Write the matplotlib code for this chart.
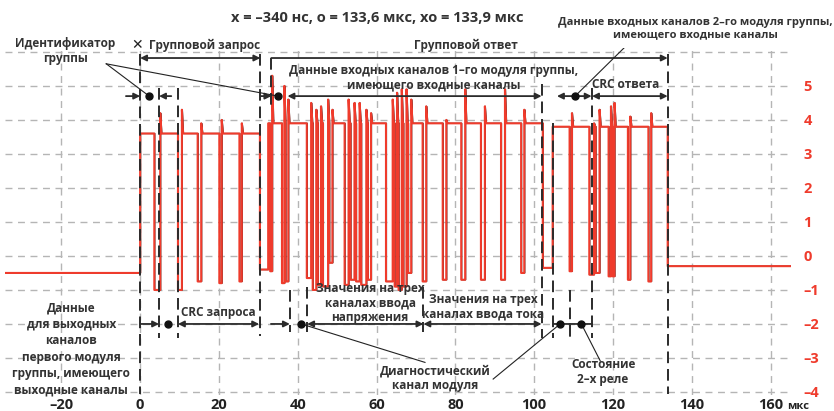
import matplotlib.pyplot as plt
import numpy as np

plt.rcParams['font.family'] = ['Open Sans', 'DejaVu Sans']

# frame levels (V) between edges (us)
frame_edges = [-34.3, 0, 30.4, 32.5, 102.2, 104.7, 133.9, 165.2]
frame_levels = [-0.5, 3.6, -0.4, 3.9, -0.35, 3.8, -0.3]

# pulses inside frames: fall time, rise time, low level, overshoot peak
pulse_start = [3.6, 9.6, 14.6, 20.1, 25.2,
               33.0, 36.0, 36.9, 42.3, 43.8, 45.1, 46.4, 48.0, 51.9, 53.4, 54.8,
               56.1, 57.8, 62.4, 64.6, 65.6, 66.8, 68.0, 71.7, 76.8, 81.5, 86.5,
               91.6, 96.7,
               109.0, 114.0, 115.6, 118.9, 119.9, 123.8, 129.0]
pulse_end = [5.1, 10.6, 15.5, 20.7, 25.8,
             33.5, 36.6, 37.6, 43.4, 44.7, 45.9, 47.7, 48.8, 52.9, 54.4, 55.7,
             57.4, 58.6, 64.1, 65.2, 66.4, 67.6, 68.8, 72.6, 77.7, 82.5, 87.5,
             92.6, 97.5,
             109.6, 115.2, 116.6, 119.5, 120.4, 124.4, 129.7]
pulse_low = [-1.0, -1.0, -0.75, -0.8, -0.75,
             -0.45, -0.8, -0.75, -0.65, -1.0, -0.85, -0.9, -0.2, -0.85, -0.7, -0.75,
             -0.85, -0.7, -0.75, -0.9, -1.0, -0.9, -0.5, -0.75, -0.7, -0.7, -0.7,
             -0.7, -0.5,
             -0.45, -0.55, -0.5, -0.6, -0.6, -0.7, -0.75]
pulse_peak = [4.2, 4.3, 3.9, 4.0, 3.9,
              5.3, 5.0, 4.6, 4.5, 4.3, 4.4, 4.6, 4.3, 4.6, 4.5, 4.5,
              4.3, 4.2, 4.6, 4.8, 4.9, 4.9, 4.6, 4.4, 4.0, 4.9, 4.4,
              4.9, 4.3,
              4.2, 3.9, 4.3, 4.4, 4.5, 4.1, 4.2]

x_ticks = [-20, 0, 20, 40, 60, 80, 100, 120, 140, 160]
y_ticks = [-4, -3, -2, -1, 0, 1, 2, 3, 4, 5, 6]

ink = '#2b2b2b'
red = '#ef3b2c'


def build_trace():
    t, v = [], []
    for i, level in enumerate(frame_levels):
        a, b = frame_edges[i], frame_edges[i + 1]
        t.append(a); v.append(level)
        for s, e, lo, pk in zip(pulse_start, pulse_end, pulse_low, pulse_peak):
            if a < s < b:
                t += [s, s, e, e, e + 0.3]
                v += [level, lo, lo, pk, level]
        t.append(b); v.append(level)
    return np.array(t), np.array(v)


fig = plt.figure(figsize=(8.34, 4.11), dpi=100)
ax = fig.add_axes([5 / 834, 0.038, 786 / 834, 0.844])
ax.set_xlim(-34.3, 165.2)
ax.set_ylim(-4.1, 6.1)

ax.set_xticks(x_ticks)
ax.set_xticklabels([str(x).replace('-', '–') for x in x_ticks])
ax.set_yticks(y_ticks)
ax.set_yticklabels([str(y).replace('-', '–') if y < 6 else '' for y in y_ticks])
ax.yaxis.tick_right()
ax.tick_params(length=0)
ax.tick_params(axis='x', pad=2, labelsize=10.5, labelcolor='#222')
ax.tick_params(axis='y', pad=9, labelsize=10.5, labelcolor=red)
for lab in ax.get_xticklabels() + ax.get_yticklabels():
    lab.set_fontweight('bold')
for s in ax.spines.values():
    s.set_visible(False)
ax.grid(True, color='#b5b5b5', lw=1, linestyle=(0, (5, 4)))
ax.set_axisbelow(True)

t, v = build_trace()
ax.plot(t + 0.12, v, color='#1a1a1a', lw=0.9, zorder=3)
ax.plot(t, v, color=red, lw=1.5, zorder=4)

# bold dashed markers
dash = (0, (6, 3))
for tv, top, bot in [(0, 5.95, -4.05), (4.8, 4.95, -2.4), (9.6, 4.95, -2.4),
                     (30.5, 5.95, -2.35), (38.0, -1.0, -2.25), (42.4, -0.9, -2.25),
                     (71.9, -0.9, -2.25), (102.0, 5.05, -2.4), (104.8, 3.9, -2.4),
                     (109.1, -1.0, -2.4), (114.7, 4.95, -2.4), (133.9, 5.95, -4.05),
                     (33.3, 5.82, 4.4)]:
    ax.plot([tv, tv], [top, bot], color=ink, lw=1.4, linestyle=dash, zorder=5)


def dim(t0, t1, y, style):
    ax.annotate('', xy=(t1, y), xytext=(t0, y),
                arrowprops=dict(arrowstyle=style, color=ink, lw=1.3,
                                shrinkA=0, shrinkB=0, mutation_scale=9),
                zorder=6)


def dot(tx, y):
    ax.plot(tx, y, 'o', ms=5, color='#111', zorder=7)


# top row
dim(0, 30.5, 5.82, '<|-|>')
dim(33.3, 133.9, 5.82, '-|>')
# identifier / data row
dim(-3.6, 0, 4.7, '-|>')
dot(2.3, 4.7)
dim(7.9, 4.8, 4.7, '-|>')
dim(30.7, 33.3, 4.7, '-|>')
dot(35.0, 4.7)
dim(37.4, 101.9, 4.7, '<|-|>')
dim(105.8, 114.6, 4.7, '<|-|>')
dot(110.4, 4.7)
dim(114.7, 133.9, 4.7, '<|-|>')
# bottom row
dim(0, 4.8, -2.0, '-|>')
dot(7.1, -2.0)
dim(9.6, 30.2, -2.0, '<|-|>')
dim(33.2, 38.0, -2.0, '-|>')
dot(40.9, -2.0)
dim(42.4, 71.9, -2.0, '<|-|>')
dim(71.9, 101.9, -2.0, '<|-|>')
dim(104.8, 109.1, -2.0, '-')
dot(106.6, -2.0)
dim(109.1, 114.7, -2.0, '-')
dot(112.0, -2.0)

# leader lines
for (x0, y0), (x1, y1) in [((-8.6, 5.65), (2.3, 4.7)), ((-8.6, 5.65), (35.0, 4.7)),
                           ((123.9, 6.24), (110.4, 4.7)),
                           ((72.3, -3.13), (40.9, -2.0)), ((89.6, -3.62), (106.6, -2.0)),
                           ((116.8, -3.09), (112.0, -2.0))]:
    ax.plot([x0, x1], [y0, y1], color='#222', lw=0.8, zorder=6)

txt = dict(color='#333', fontsize=8.5, fontweight='bold', ha='center', va='center',
           linespacing=1.15, zorder=8)
ax.text(-19.0, 6.03, 'Идентификатор\nгруппы', **txt)
ax.text(-0.8, 6.2, '✕', color='#222', fontsize=10, fontweight='bold', ha='center', va='center')
ax.text(2.3, 6.2, 'Групповой запрос', **{**txt, 'ha': 'left'})
ax.text(82.7, 6.2, 'Групповой ответ', **txt)
ax.text(74.6, 5.25, 'Данные входных каналов 1–го модуля группы,\nимеющего входные каналы', **txt)
ax.text(141.0, 6.69, 'Данные входных каналов 2–го модуля группы,\nимеющего входные каналы',
        **{**txt, 'fontsize': 8.0})
ax.text(123.1, 5.03, 'CRC ответа', **txt)
ax.text(19.8, -1.67, 'CRC запроса', **txt)
ax.text(58.4, -1.38, 'Значения на трех\nканалах ввода\nнапряжения', **txt)
ax.text(87.1, -1.5, 'Значения на трех\nканалах ввода тока', **txt)
ax.text(74.9, -3.59, 'Диагностический\nканал модуля', **txt)
ax.text(117.5, -3.41, 'Состояние\n2–х реле', **txt)
ax.text(-17.5, -2.74, 'Данные\nдля выходных\nканалов\nпервого модуля\nгруппы, имеющего\nвыходные каналы',
        **{**txt, 'linespacing': 1.35})
ax.text(167.0, -4.5, 'мкс', color='#222', fontsize=8, fontweight='bold', ha='center',
        va='baseline')

fig.text(377 / 834, 1 - 18 / 411, 'x = –340 нс, o = 133,6 мкс, xo = 133,9 мкс',
         color='#333', fontsize=10.5, fontweight='bold', ha='center', va='center')

fig.savefig('out.png', dpi=100)
